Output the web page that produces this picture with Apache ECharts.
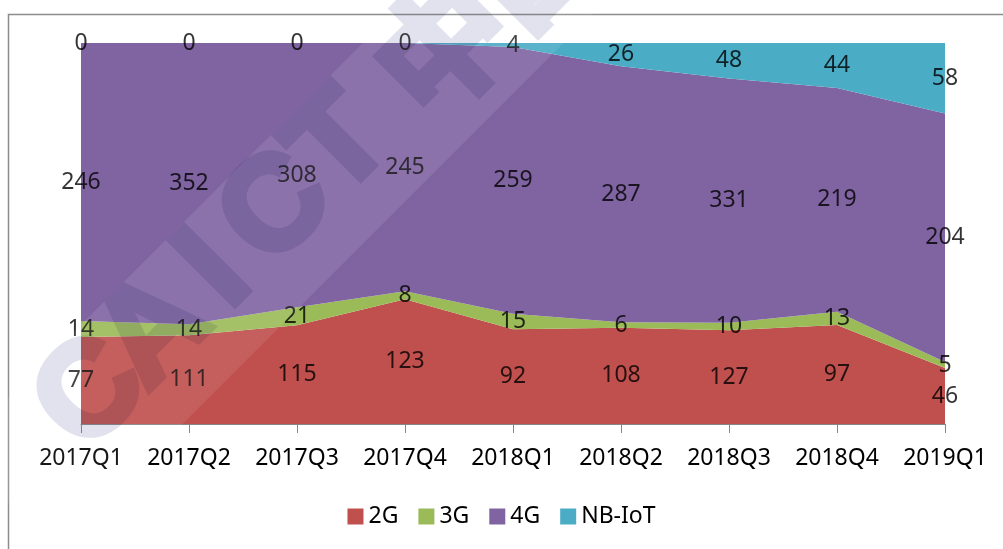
<!DOCTYPE html>
<html>
<head>
<meta charset="utf-8">
<script src="https://cdn.jsdelivr.net/npm/echarts@6/dist/echarts.min.js"></script>
<style>
  html, body { margin: 0; padding: 0; background: #fff; }
  #chart { width: 1003px; height: 549px; }
  /* 浮水印文字層用 multiply 疊色 */
  #chart canvas[data-zr-dom-id="zr_2"] { mix-blend-mode: multiply; }
</style>
</head>
<body>
<div id="chart"></div>
<script>
// ── 資料 ───────────────────────────────────────────
const quarters = ['2017Q1', '2017Q2', '2017Q3', '2017Q4', '2018Q1', '2018Q2', '2018Q3', '2018Q4', '2019Q1'];
const net2G    = [77, 111, 115, 123, 92, 108, 127, 97, 46];
const net3G    = [14, 14, 21, 8, 15, 6, 10, 13, 5];
const net4G    = [246, 352, 308, 245, 259, 287, 331, 219, 204];
const netNB    = [0, 0, 0, 0, 4, 26, 48, 44, 58];

const seriesNames  = ['2G', '3G', '4G', 'NB-IoT'];
const seriesValues = [net2G, net3G, net4G, netNB];
const colors       = ['#C0504D', '#9BBB59', '#8064A2', '#4BACC6'];

const FONT = '"Noto Sans", sans-serif';

// 百分比堆疊
const totals = quarters.map((_, i) => seriesValues.reduce((s, arr) => s + arr[i], 0));
const pct = seriesValues.map(arr => arr.map((v, i) => v / totals[i] * 100));

const areaSeries = seriesNames.map((name, k) => ({
  name,
  type: 'line',
  stack: 'total',
  data: pct[k],
  symbol: 'none',
  lineStyle: { width: 0 },
  areaStyle: { color: colors[k], opacity: 1 },
  itemStyle: { color: colors[k] },
  z: 2,
}));

// 標籤放在每個色帶中間
const labelData = [];
quarters.forEach((q, i) => {
  let base = 0;
  seriesValues.forEach((arr, k) => {
    labelData.push({ value: [i, base + pct[k][i] / 2], raw: arr[i] });
    base += pct[k][i];
  });
});

// ── 浮水印（斜向 CAICT 中国信通院） ─────────────────
const wmLetters = [
  { t: 'C', x: -184 }, { t: 'A', x: -96 }, { t: 'I', x: -10 },
  { t: 'C', x: 78 },   { t: 'T', x: 168 },
];
const wmText = (text, x, font, align) => ({
  type: 'text',
  zlevel: 2,
  z: 1,
  x, y: -10,
  style: {
    text, font, align,
    fill: '#E2E2EE',
    stroke: '#E2E2EE',
    lineWidth: 7,
    verticalAlign: 'middle',
  },
});
const wmBand = {
  type: 'group',
  x: 230, y: 272,
  rotation: Math.PI / 4,
  silent: true,
  children: [{
    type: 'rect',
    zlevel: 1,
    z: 1,
    shape: { x: -320, y: -68, width: 1200, height: 142 },
    style: { fill: 'rgba(255,255,255,0.09)' },
  }],
};
const wmWords = {
  type: 'group',
  x: 230, y: 272,
  rotation: Math.PI / 4,
  silent: true,
  children: [
    ...wmLetters.map(l => wmText(l.t, l.x, 'bold 132px "Liberation Sans", sans-serif', 'center')),
    wmText('中国信通院', 245, 'bold 130px "Noto Sans CJK SC", sans-serif', 'left'),
  ],
};

const chart = echarts.init(document.getElementById('chart'));
chart.setOption({
  backgroundColor: '#fff',
  animation: false,
  textStyle: { fontFamily: FONT },
  grid: { left: 81, right: 58, top: 43, bottom: 125 },
  legend: {
    data: seriesNames,
    bottom: 16,
    left: 'center',
    icon: 'rect',
    itemWidth: 16,
    itemHeight: 16,
    itemGap: 20,
    textStyle: { fontSize: 23, color: '#000', fontFamily: FONT },
  },
  xAxis: {
    type: 'category',
    data: quarters,
    boundaryGap: false,
    axisLine: { lineStyle: { color: '#868686', width: 1 } },
    axisTick: { show: true, length: 9, interval: 0, lineStyle: { color: '#868686' } },
    axisLabel: { fontSize: 23, color: '#000', margin: 23, interval: 0, fontFamily: FONT },
    z: 5,
  },
  yAxis: {
    type: 'value',
    min: 0,
    max: 100,
    show: false,
  },
  series: [
    ...areaSeries,
    {
      type: 'scatter',
      data: labelData,
      symbolSize: 0,
      silent: true,
      z: 10,
      label: {
        show: true,
        position: 'inside',
        color: '#000',
        fontSize: 23,
        fontFamily: FONT,
        formatter: p => String(p.data.raw),
      },
    },
  ],
  graphic: [
    {
      type: 'rect',
      shape: { x: 8.5, y: 14.5, width: 1100, height: 600 },
      style: { fill: 'none', stroke: '#8c8c8c', lineWidth: 1.5 },
      silent: true,
      z: 0,
    },
    wmBand,
    wmWords,
  ],
});
</script>
</body>
</html>
